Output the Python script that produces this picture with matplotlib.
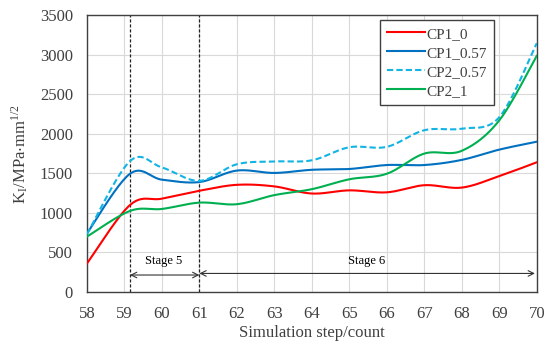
import numpy as np
import matplotlib
matplotlib.use("Agg")
import matplotlib.pyplot as plt

# dados (passo de simulação x K_I)
passos = [58, 59.15, 60, 61, 62, 63, 64, 65, 66, 67, 68, 69, 70]
cp1_0 = [360, 1100, 1180, 1280, 1355, 1335, 1245, 1285, 1260, 1350, 1320, 1465, 1640]
cp1_057 = [740, 1495, 1420, 1390, 1535, 1505, 1545, 1555, 1605, 1605, 1670, 1800, 1900]
cp2_057 = [730, 1655, 1575, 1405, 1615, 1650, 1665, 1830, 1835, 2045, 2065, 2210, 3145]
cp2_1 = [700, 1025, 1050, 1130, 1110, 1225, 1300, 1425, 1495, 1750, 1785, 2170, 2985]

nomes = ["CP1_0", "CP1_0.57", "CP2_0.57", "CP2_1"]
series = [cp1_0, cp1_057, cp2_057, cp2_1]
cores = ["#ff0000", "#0070c0", "#12b4e4", "#00b050"]
estilos = ["-", "-", "--", "-"]

limites_estagio = [59.15, 61.0]
fim_estagio6 = 69.95
xticks = list(range(58, 71))
yticks = list(range(0, 3501, 500))


def suaviza(xs, ys, n=24):
    # linha suavizada tipo Excel (Bezier a partir de Catmull-Rom)
    px = np.r_[xs[0], xs, xs[-1]].astype(float)
    py = np.r_[ys[0], ys, ys[-1]].astype(float)
    t = np.linspace(0, 1, n, endpoint=False)[:, None]
    pts = []
    for i in range(1, len(px) - 2):
        p0 = np.array([px[i], py[i]])
        p3 = np.array([px[i + 1], py[i + 1]])
        c1 = p0 + (np.array([px[i + 1], py[i + 1]]) - np.array([px[i - 1], py[i - 1]])) / 6
        c2 = p3 - (np.array([px[i + 2], py[i + 2]]) - np.array([px[i], py[i]])) / 6
        b = ((1 - t) ** 3) * p0 + 3 * ((1 - t) ** 2) * t * c1 + 3 * (1 - t) * t ** 2 * c2 + t ** 3 * p3
        pts.append(b)
    pts.append(np.array([[px[-2], py[-2]]]))
    pts = np.vstack(pts)
    return pts[:, 0], pts[:, 1]


plt.rcParams.update({
    "font.family": "Liberation Serif",
    "mathtext.fontset": "stix",
})

fig = plt.figure(figsize=(5.5, 3.51), dpi=100)
ax = fig.add_axes([0.158, 0.168, 0.818, 0.789])

for nome, ys, cor, ls in zip(nomes, series, cores, estilos):
    sx, sy = suaviza(passos, ys)
    ax.plot(sx, sy, color=cor, linestyle=ls, linewidth=1.5, label=nome,
            dashes=(3, 1.5) if ls == "--" else (None, None), zorder=3)

for xv in limites_estagio:
    ax.axvline(xv, color="#222222", linestyle=(0, (2.5, 1.5)), linewidth=0.9, zorder=2)

# setas dos estágios
ax.annotate("", xy=(limites_estagio[0], 215), xytext=(limites_estagio[1], 215),
            arrowprops=dict(arrowstyle="<->", color="#333333", lw=0.8,
                            shrinkA=0, shrinkB=0, mutation_scale=10))
ax.annotate("", xy=(limites_estagio[1], 235), xytext=(fim_estagio6, 235),
            arrowprops=dict(arrowstyle="<->", color="#333333", lw=0.8,
                            shrinkA=0, shrinkB=0, mutation_scale=10))
ax.text(60.05, 390, "Stage 5", ha="center", va="center", fontsize=9)
ax.text(65.45, 390, "Stage 6", ha="center", va="center", fontsize=9)

ax.set_xlim(58, 70)
ax.set_ylim(0, 3500)
ax.set_xticks(xticks)
ax.set_yticks(yticks)
ax.grid(True, color="#d9d9d9", linewidth=0.8, zorder=0)
ax.set_axisbelow(True)
ax.tick_params(length=0, pad=10, labelsize=12, colors="#404040")
for sp in ax.spines.values():
    sp.set_color("#404040")
    sp.set_linewidth(1.0)

ax.set_xlabel("Simulation step/count", fontsize=12, color="#404040", labelpad=2)
ax.set_ylabel(r"K$_\mathregular{I}$/MPa$\cdot$mm$^\mathregular{1/2}$", fontsize=12,
              color="#404040", labelpad=6)

leg = ax.legend(loc="upper right", bbox_to_anchor=(0.905, 0.982), fontsize=11,
                fancybox=False, edgecolor="#404040", framealpha=1,
                handlelength=2.5, handletextpad=0.1, labelspacing=0.35,
                borderpad=0.45, borderaxespad=0)
leg.get_frame().set_linewidth(1.0)
for t in leg.get_texts():
    t.set_color("#404040")

plt.savefig("out.png", dpi=100)
